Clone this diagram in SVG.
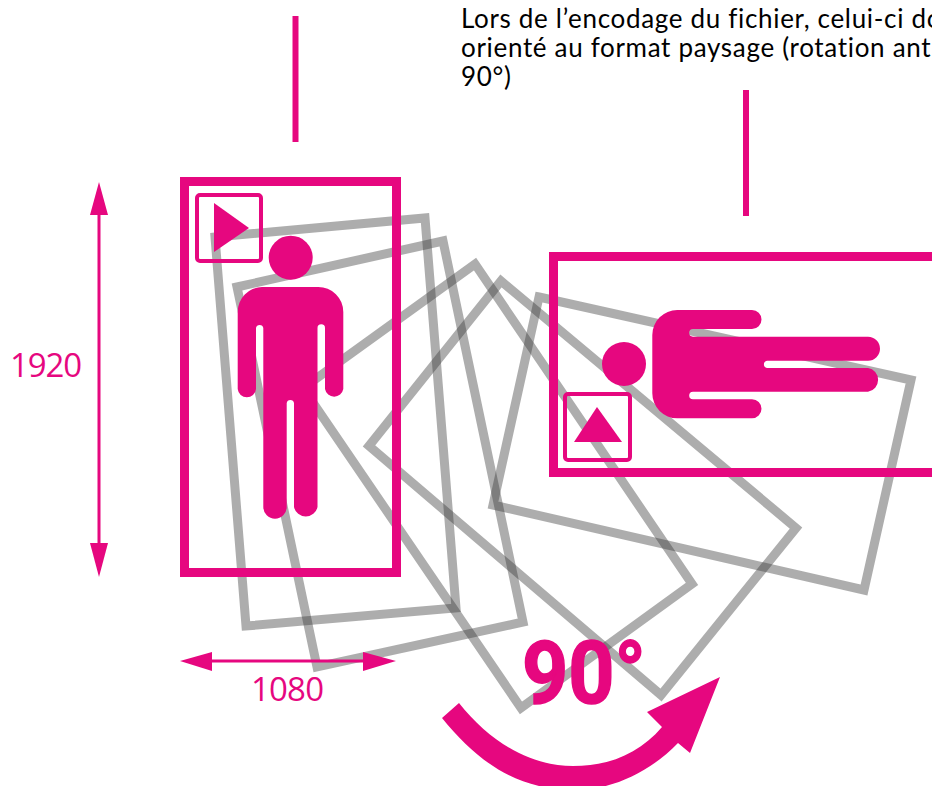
<svg xmlns="http://www.w3.org/2000/svg" width="932" height="786" viewBox="0 0 932 786">
<style>
.g{fill:none;stroke:#3a3a3a;stroke-opacity:.415;stroke-width:9}
.p{fill:#e6077f}
.f{fill:none;stroke:#e6077f;stroke-width:9}
.s{fill:none;stroke:#e6077f;stroke-width:4;}
.t{font-family:"Lato","Liberation Sans",sans-serif;fill:#000;font-size:26px;letter-spacing:.68px}
.n{font-family:"Open Sans","Liberation Sans",sans-serif;fill:#e6077f;font-size:33px}
</style>
<rect width="932" height="786" fill="#fff"/>
<g id="rotation-frames">
<polygon class="g" points="215,237 425,218 456,608 246,626"/>
<polygon class="g" points="237,287 443,241 523,622 317,667"/>
<polygon class="g" points="475,264 692,584 521,708 303,388"/>
<polygon class="g" points="501,281 796,528 661,695 369,446"/>
<polygon class="g" points="539,297 911,380 864,590 493,505"/>
</g>
<g id="portrait">
<rect class="f" x="184.500" y="181.500" width="212" height="391"/>
<rect class="s" x="197" y="195" width="64" height="66" rx="3"/>
<polygon class="p" points="214,203 249,228 214,252"/>
<circle class="p" cx="290.700" cy="257.700" r="22"/>
<path class="p" d="M262 287H318A25 25 0 0 1 343.300 312V389A9.300 9.300 0 0 1 325 389V328A3.700 3.700 0 0 0 317.500 328V507A12 12 0 0 1 294 507V403A3.700 3.700 0 0 0 286.700 403V507A11.700 11.700 0 0 1 263.300 507V328A3.700 3.700 0 0 0 256 328V389A9.200 9.200 0 0 1 237.700 389V312A25 25 0 0 1 262 287Z"/>
</g>
<g id="landscape">
<rect class="f" x="553.500" y="256.500" width="400" height="216"/>
<rect class="s" x="565" y="394" width="65" height="66" rx="3"/>
<polygon class="p" points="597,407 574,442 622,442"/>
<circle class="p" cx="624" cy="364" r="22"/>
<path class="p" d="M652.300 335A25 25 0 0 1 677.300 310H752A9.500 9.500 0 0 1 752 329H693A3.700 3.700 0 0 0 693 336.700H868A12 12 0 0 1 868 360.700H767A3.700 3.700 0 0 0 767 368H868A12 12 0 0 1 868 391.700H693A3.700 3.700 0 0 0 693 399.300H752A9.500 9.500 0 0 1 752 418.300H677.300A25 25 0 0 1 652.300 393.300Z"/>
</g>
<g id="connectors">
<line x1="295.500" y1="16" x2="295.500" y2="142" stroke="#e6077f" stroke-width="6"/>
<line x1="746" y1="90" x2="746" y2="216" stroke="#e6077f" stroke-width="6"/>
<line x1="99" y1="210" x2="99" y2="550" stroke="#e6077f" stroke-width="3"/>
<polygon class="p" points="99,182 108,215 90,215"/>
<polygon class="p" points="99,577 108,543 90,543"/>
<line x1="210" y1="661" x2="365" y2="661" stroke="#e6077f" stroke-width="3"/>
<polygon class="p" points="180,661 212,652 212,671"/>
<polygon class="p" points="396,661 363,652 363,671"/>
<path id="rotation-arrow" class="p" d="M442 718L459 703C490 742 530 766 573 766C610 766 640 753 662 727L647 712L720 677L690 753L678 743C650 772 612 790 575 790C520 790 480 765 442 718Z"/>
</g>
<g id="labels">
<text class="t" x="461" y="28">Lors de l’encodage du fichier, celui-ci do</text>
<text class="t" x="461" y="57">orienté au format paysage (rotation ant</text>
<text class="t" x="461" y="86">90°)</text>
<text class="n" x="10" y="377" textLength="72">1920</text>
<text class="n" x="251" y="701" textLength="73">1080</text>
<text x="522" y="703" font-family="'Roboto',sans-serif" font-weight="700" font-size="88" fill="#e6077f" textLength="124" lengthAdjust="spacingAndGlyphs" stroke="#e6077f" stroke-width="1.500">90°</text>
</g>
</svg>
